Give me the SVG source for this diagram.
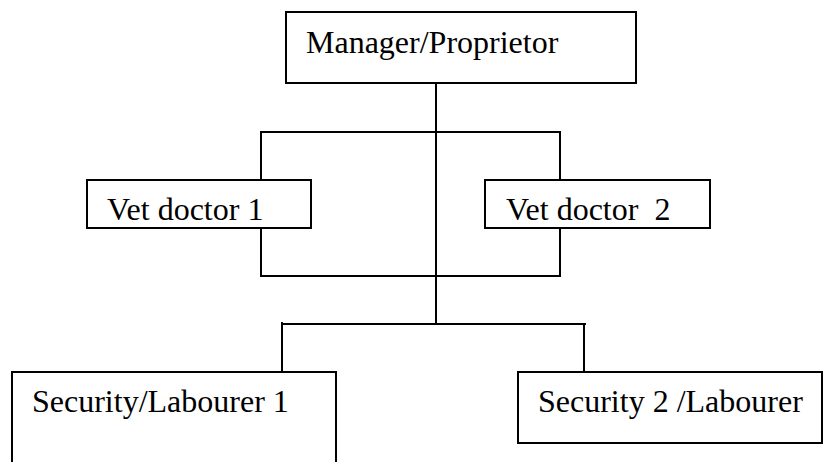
<svg xmlns="http://www.w3.org/2000/svg" width="823" height="462" viewBox="0 0 823 462">
<style>
.box{fill:#fff;stroke:#000;stroke-width:2}
.ln{fill:none;stroke:#000;stroke-width:2}
text{font-family:"Liberation Serif","Times New Roman",serif;font-size:32px;fill:#000}
</style>
<rect width="823" height="462" fill="#fff"/>
<g id="connectors">
<line class="ln" x1="436" y1="83" x2="436" y2="324"/>
<polyline class="ln" points="261,180 261,132 560,132 560,180"/>
<polyline class="ln" points="261,228 261,276 560,276 560,228"/>
<line class="ln" x1="283" y1="324" x2="586" y2="324"/>
<line class="ln" x1="282" y1="322" x2="282" y2="372"/>
<line class="ln" x1="584" y1="324" x2="584" y2="372"/>
</g>
<g id="manager">
<rect class="box" x="286" y="12" width="350" height="71"/>
<text x="306" y="53">Manager/Proprietor</text>
</g>
<g id="vet1">
<rect class="box" x="87" y="180" width="224" height="48"/>
<text x="107" y="220">Vet doctor 1</text>
</g>
<g id="vet2">
<rect class="box" x="485" y="180" width="225" height="48"/>
<text x="506" y="220" xml:space="preserve">Vet doctor  2</text>
</g>
<g id="security1">
<path class="ln" d="M12,463 V372 H336 V463"/>
<text x="32" y="412">Security/Labourer 1</text>
</g>
<g id="security2">
<rect class="box" x="518" y="372" width="304" height="71"/>
<text x="538" y="412">Security 2 /Labourer</text>
</g>
</svg>
